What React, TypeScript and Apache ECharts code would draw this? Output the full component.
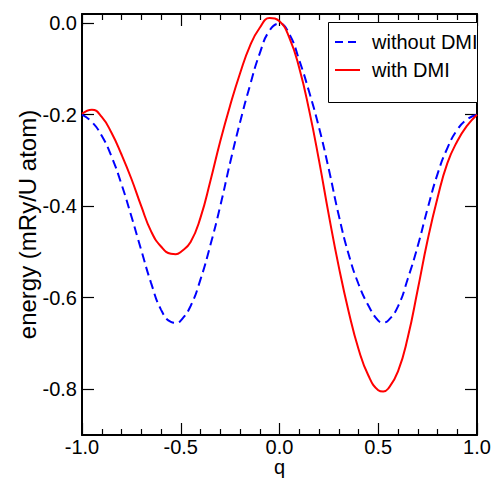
import React, { useEffect, useRef } from "react";
import * as echarts from "echarts";

const qValues = [
  -1.0, -0.95, -0.9, -0.85, -0.8, -0.75, -0.7, -0.65, -0.6, -0.55, -0.525, -0.5,
  -0.45, -0.4, -0.35, -0.3, -0.25, -0.2, -0.15, -0.1, -0.05, 0.0,
  0.05, 0.1, 0.15, 0.2, 0.25, 0.3, 0.35, 0.4, 0.45, 0.5, 0.525,
  0.55, 0.6, 0.65, 0.7, 0.75, 0.8, 0.85, 0.9, 0.95, 1.0,
];

const withoutDMI = [
  -0.2, -0.216, -0.246, -0.292, -0.352, -0.422, -0.496, -0.568, -0.626, -0.653, -0.655, -0.65,
  -0.618, -0.56, -0.485, -0.4, -0.305, -0.217, -0.137, -0.066, -0.016, -0.001,
  -0.024, -0.081, -0.15, -0.228, -0.32, -0.42, -0.505, -0.57, -0.617, -0.65, -0.654,
  -0.65, -0.619, -0.558, -0.487, -0.405, -0.33, -0.273, -0.233, -0.21, -0.2,
];

const withDMI = [
  -0.198, -0.189, -0.205, -0.24, -0.287, -0.34, -0.4, -0.455, -0.488, -0.504, -0.505, -0.5,
  -0.478, -0.425, -0.345, -0.258, -0.18, -0.11, -0.05, -0.01, 0.011, 0.004,
  -0.032, -0.098, -0.19, -0.3, -0.42, -0.532, -0.63, -0.712, -0.77, -0.802, -0.805,
  -0.799, -0.761, -0.686, -0.582, -0.474, -0.382, -0.306, -0.258, -0.224, -0.2,
];

const xTickLabels = [-1.0, -0.5, 0.0, 0.5, 1.0];
const yTickValues = [0.0, -0.2, -0.4, -0.6, -0.8];
const seriesNames = ["without DMI", "with DMI"];
const seriesColors = ["#0000ff", "#ff0000"];

const FONT = "'Liberation Sans', Arial, Helvetica, sans-serif";

export default function App() {
  const ref = useRef<HTMLDivElement>(null);

  useEffect(() => {
    if (!ref.current) return;
    const chart = echarts.init(ref.current, null, { renderer: "svg" });

    const mkLine = () => ({ show: true, onZero: false, lineStyle: { color: "#000", width: 2 } });
    const mkTick = () => ({ color: "#000", width: 1.2 });

    const legendLeft = 328;
    const legendTop = 22;

    const xCommon = {
      type: "value",
      min: -1,
      max: 1,
      interval: 0.5,
      axisLine: mkLine(),
      splitLine: { show: false },
      minorSplitLine: { show: false },
    };

    const yCommon = {
      type: "value",
      min: -0.9,
      max: 0.02,
      axisLine: mkLine(),
      splitLine: { show: false },
    };

    const option: any = {
      animation: false,
      backgroundColor: "#fff",
      grid: {
        left: 82,
        right: 15,
        top: 14,
        bottom: 45,
        containLabel: false,
        outerBoundsMode: "none",
      },
      xAxis: [
        {
          ...xCommon,
          position: "bottom",
          axisTick: { show: true, inside: true, length: 12, lineStyle: mkTick() },
          minorTick: { show: true, splitNumber: 5, length: 6, lineStyle: mkTick() },
          axisLabel: {
            fontSize: 20,
            color: "#000",
            fontFamily: FONT,
            margin: 2,
            customValues: xTickLabels,
            formatter: (v: number) => v.toFixed(1),
          },
          name: "q",
          nameLocation: "middle",
          nameGap: 22,
          nameMoveOverlap: false,
          nameTextStyle: { fontSize: 20, color: "#000", fontFamily: FONT },
        },
        {
          ...xCommon,
          position: "top",
          axisTick: { show: true, inside: true, length: 12, lineStyle: mkTick() },
          minorTick: { show: true, splitNumber: 5, length: 6, lineStyle: mkTick() },
          axisLabel: { show: false },
        },
      ],
      yAxis: [
        {
          ...yCommon,
          position: "left",
          axisTick: {
            show: true,
            inside: true,
            length: 12,
            lineStyle: mkTick(),
            customValues: yTickValues,
          },
          axisLabel: {
            fontSize: 20,
            color: "#000",
            fontFamily: FONT,
            margin: 5,
            customValues: yTickValues,
            formatter: (v: number) => v.toFixed(1),
          },
          name: "energy (mRy/U atom)",
          nameLocation: "middle",
          nameGap: 43,
          nameMoveOverlap: false,
          nameTextStyle: { fontSize: 24, color: "#000", fontFamily: FONT },
        },
        {
          ...yCommon,
          position: "right",
          axisTick: {
            show: true,
            inside: true,
            length: 12,
            lineStyle: mkTick(),
            customValues: yTickValues,
          },
          axisLabel: { show: false },
        },
      ],
      graphic: [
        {
          type: "rect",
          left: legendLeft,
          top: legendTop,
          z: 100,
          shape: { width: 149, height: 80 },
          style: { fill: "#fff", stroke: "#000", lineWidth: 1 },
        },
        {
          type: "line",
          z: 101,
          shape: { x1: legendLeft + 7, y1: legendTop + 20, x2: legendLeft + 32, y2: legendTop + 20 },
          style: { stroke: seriesColors[0], lineWidth: 2, lineDash: [8, 5] },
        },
        {
          type: "text",
          z: 101,
          x: legendLeft + 44,
          y: legendTop + 20,
          style: {
            text: seriesNames[0],
            fill: "#000",
            fontSize: 20,
            fontFamily: FONT,
            verticalAlign: "middle",
            align: "left",
          },
        },
        {
          type: "line",
          z: 101,
          shape: { x1: legendLeft + 7, y1: legendTop + 48, x2: legendLeft + 32, y2: legendTop + 48 },
          style: { stroke: seriesColors[1], lineWidth: 2 },
        },
        {
          type: "text",
          z: 101,
          x: legendLeft + 44,
          y: legendTop + 48,
          style: {
            text: seriesNames[1],
            fill: "#000",
            fontSize: 20,
            fontFamily: FONT,
            verticalAlign: "middle",
            align: "left",
          },
        },
      ],
      series: [
        {
          name: seriesNames[0],
          type: "line",
          xAxisIndex: 0,
          yAxisIndex: 0,
          data: qValues.map((q, i) => [q, withoutDMI[i]]),
          smooth: 0.5,
          symbol: "none",
          showSymbol: false,
          itemStyle: { color: seriesColors[0] },
          lineStyle: { color: seriesColors[0], width: 2, type: [9, 5] },
        },
        {
          name: seriesNames[1],
          type: "line",
          xAxisIndex: 0,
          yAxisIndex: 0,
          data: qValues.map((q, i) => [q, withDMI[i]]),
          smooth: 0.5,
          symbol: "none",
          showSymbol: false,
          itemStyle: { color: seriesColors[1] },
          lineStyle: { color: seriesColors[1], width: 2, type: "solid" },
        },
      ],
    };

    chart.setOption(option);
    return () => chart.dispose();
  }, []);

  return (
    <div
      ref={ref}
      style={{ position: "fixed", left: 0, top: 0, width: 492, height: 480, background: "#fff" }}
    />
  );
}
